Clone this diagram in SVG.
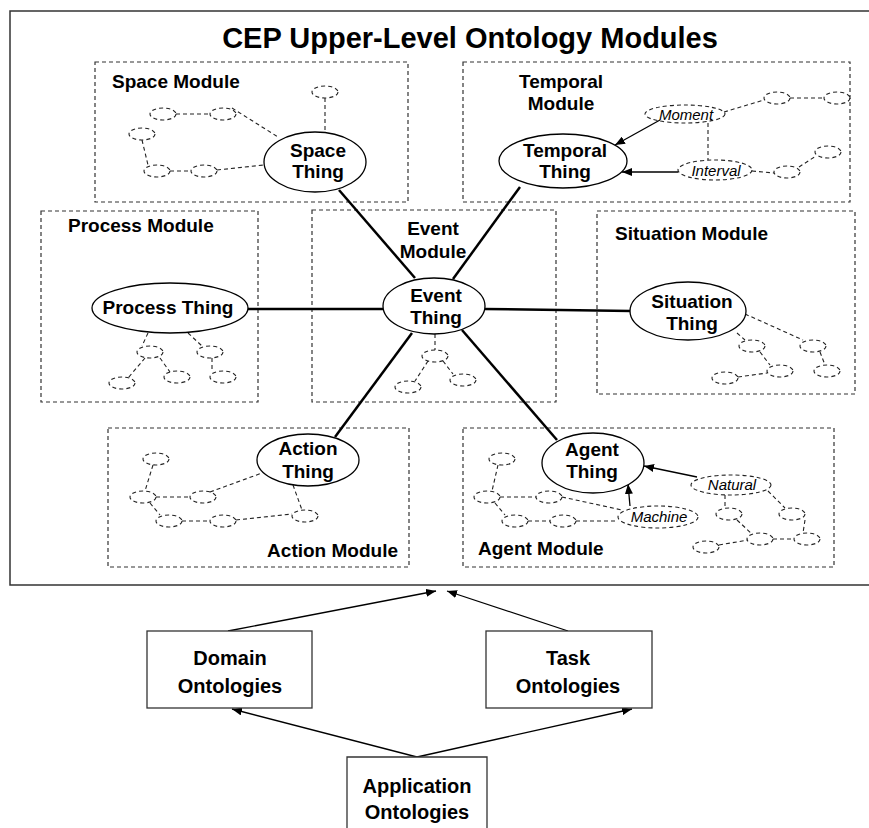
<svg xmlns="http://www.w3.org/2000/svg" width="869" height="828" viewBox="0 0 869 828">
<style>
.frame{fill:none;stroke:#333;stroke-width:1.5}
.mod{fill:none;stroke:#333;stroke-width:1.2;stroke-dasharray:4 3}
.sm{fill:none;stroke:#222;stroke-width:1.1;stroke-dasharray:4 3}
.dl{fill:none;stroke:#222;stroke-width:1.1;stroke-dasharray:4 3}
.th{fill:#fff;stroke:#000;stroke-width:1.3}
.spoke{stroke:#000;stroke-width:2.5;fill:none}
.arr{stroke:#000;stroke-width:1.3;fill:none;marker-end:url(#ah)}
.box{fill:#fff;stroke:#333;stroke-width:1.3}
text{font-family:"Liberation Sans",Arial,Helvetica,sans-serif;fill:#000}
.b{font-weight:bold;font-size:19px}
.bb{font-weight:bold;font-size:20px}
.c{text-anchor:middle}
.it{font-style:italic;font-size:15px;text-anchor:middle}
.title{font-weight:bold;font-size:29px;text-anchor:middle}
</style>
<defs>
<marker id="ah" viewBox="0 0 10 8" refX="10" refY="4" markerWidth="10" markerHeight="8" markerUnits="userSpaceOnUse" orient="auto"><path d="M0,0 L10,4 L0,8 z" fill="#000"/></marker>
</defs>
<rect width="869" height="828" fill="#fff"/>
<path class="frame" d="M872,11 H10 V585 H872"/>
<text class="title" x="470" y="48">CEP Upper-Level Ontology Modules</text>

<g id="space-module">
<rect class="mod" x="95" y="62" width="313" height="140"/>
<text class="b" x="112" y="88">Space Module</text>
<ellipse class="sm" cx="325" cy="92" rx="13" ry="6"/>
<ellipse class="sm" cx="163" cy="114" rx="13" ry="6"/>
<ellipse class="sm" cx="223" cy="114" rx="13" ry="6"/>
<ellipse class="sm" cx="142" cy="134" rx="13" ry="6"/>
<ellipse class="sm" cx="157" cy="171" rx="13" ry="6"/>
<ellipse class="sm" cx="204" cy="171" rx="13" ry="6"/>
<path class="dl" d="M325,98 V132 M176,114 H210 M232,108 L278,137 M142,140 L148,165 M170,171 H191 M217,170 L264,165"/>
</g>

<g id="temporal-module">
<rect class="mod" x="463" y="62" width="387" height="140"/>
<text class="b c" x="561" y="88">Temporal</text>
<text class="b c" x="561" y="110">Module</text>
<ellipse class="sm" cx="777" cy="98" rx="13" ry="6"/>
<ellipse class="sm" cx="837" cy="98" rx="13" ry="6"/>
<ellipse class="sm" cx="787" cy="172" rx="13" ry="6"/>
<ellipse class="sm" cx="828" cy="152" rx="13" ry="6"/>
<path class="dl" d="M724,112 L764,100 M790,98 H824 M708,123 V160 M752,171 L774,173 M799,167 L816,156"/>
</g>
<g id="moment">
<ellipse class="sm" cx="685" cy="114" rx="40" ry="9"/>
<text class="it" x="686" y="120">Moment</text>
</g>
<g id="interval">
<ellipse class="sm" cx="715" cy="170" rx="37" ry="10"/>
<text class="it" x="716" y="176">Interval</text>
</g>

<g id="process-module">
<rect class="mod" x="41" y="211" width="217" height="191"/>
<text class="b" x="68" y="232">Process Module</text>
<ellipse class="sm" cx="150" cy="352" rx="13" ry="6"/>
<ellipse class="sm" cx="210" cy="352" rx="13" ry="6"/>
<ellipse class="sm" cx="177" cy="377" rx="13" ry="6"/>
<ellipse class="sm" cx="223" cy="377" rx="13" ry="6"/>
<ellipse class="sm" cx="122" cy="383" rx="13" ry="6"/>
<path class="dl" d="M148,333 L142,346 M188,333 L202,346 M145,358 L128,378 M160,358 L170,372 M212,358 V371"/>
</g>

<g id="event-module">
<rect class="mod" x="312" y="210" width="244" height="192"/>
<text class="b c" x="433" y="235">Event</text>
<text class="b c" x="433" y="258">Module</text>
<ellipse class="sm" cx="435" cy="356" rx="13" ry="6"/>
<ellipse class="sm" cx="408" cy="387" rx="13" ry="6"/>
<ellipse class="sm" cx="463" cy="380" rx="13" ry="6"/>
<path class="dl" d="M435,334 V350 M428,361 L415,381 M443,361 L453,374"/>
</g>

<g id="situation-module">
<rect class="mod" x="597" y="211" width="258" height="183"/>
<text class="b" x="615" y="240">Situation Module</text>
<ellipse class="sm" cx="752" cy="346" rx="13" ry="6"/>
<ellipse class="sm" cx="813" cy="346" rx="13" ry="6"/>
<ellipse class="sm" cx="780" cy="371" rx="13" ry="6"/>
<ellipse class="sm" cx="827" cy="371" rx="13" ry="6"/>
<ellipse class="sm" cx="725" cy="378" rx="13" ry="6"/>
<path class="dl" d="M745,314 L803,340 M737,333 L745,340 M760,352 L770,365 M738,377 L767,373 M820,352 L825,365"/>
</g>

<g id="action-module">
<rect class="mod" x="108" y="428" width="301" height="139"/>
<text class="b" x="398" y="557" text-anchor="end">Action  Module</text>
<ellipse class="sm" cx="156" cy="459" rx="13" ry="6"/>
<ellipse class="sm" cx="143" cy="497" rx="13" ry="6"/>
<ellipse class="sm" cx="203" cy="497" rx="13" ry="6"/>
<ellipse class="sm" cx="169" cy="521" rx="13" ry="6"/>
<ellipse class="sm" cx="223" cy="521" rx="13" ry="6"/>
<ellipse class="sm" cx="305" cy="516" rx="13" ry="6"/>
<path class="dl" d="M153,465 L145,491 M156,497 H190 M210,492 L262,473 M150,503 L160,515 M182,521 H210 M236,520 L292,514 M293,485 L302,510"/>
</g>

<g id="agent-module">
<rect class="mod" x="463" y="428" width="371" height="139"/>
<text class="b" x="478" y="555">Agent Module</text>
<ellipse class="sm" cx="502" cy="459" rx="13" ry="6"/>
<ellipse class="sm" cx="487" cy="497" rx="13" ry="6"/>
<ellipse class="sm" cx="549" cy="497" rx="13" ry="6"/>
<ellipse class="sm" cx="515" cy="521" rx="13" ry="6"/>
<ellipse class="sm" cx="563" cy="521" rx="13" ry="6"/>
<ellipse class="sm" cx="729" cy="514" rx="13" ry="6"/>
<ellipse class="sm" cx="792" cy="514" rx="13" ry="6"/>
<ellipse class="sm" cx="760" cy="539" rx="13" ry="6"/>
<ellipse class="sm" cx="807" cy="539" rx="13" ry="6"/>
<ellipse class="sm" cx="706" cy="547" rx="13" ry="6"/>
<path class="dl" d="M498,465 L492,491 M500,497 H536 M562,497 L622,510 M495,503 L505,515 M528,521 H550 M576,521 L618,521 M725,495 V508 M768,491 L785,508 M737,520 L752,534 M805,520 L803,533 M719,545 L748,540 M773,539 H794"/>
</g>
<g id="natural">
<ellipse class="sm" cx="731" cy="485" rx="40" ry="10"/>
<text class="it" x="732" y="490">Natural</text>
</g>
<g id="machine">
<ellipse class="sm" cx="658" cy="517" rx="40" ry="11"/>
<text class="it" x="659" y="522">Machine</text>
</g>

<g id="connectors">
<path class="spoke" d="M339,190 L415,278"/>
<path class="spoke" d="M520,187 L453,279"/>
<path class="spoke" d="M248,309 H384"/>
<path class="spoke" d="M484,309 L631,311"/>
<path class="spoke" d="M412,333 L335,437"/>
<path class="spoke" d="M462,330 L557,440"/>
<path class="arr" d="M660,120 L615,145"/>
<path class="arr" d="M678,172 L622,172"/>
<path class="arr" d="M697,477 L644,466"/>
<path class="arr" d="M630,506 L628,484"/>
<path class="arr" d="M228,631 L436,591"/>
<path class="arr" d="M568,631 L447,591"/>
<path class="arr" d="M417,757 L232,709"/>
<path class="arr" d="M417,757 L632,709"/>
</g>

<g id="space-thing">
<ellipse class="th" cx="315" cy="162" rx="51" ry="30"/>
<text class="b c" x="318" y="157">Space</text>
<text class="b c" x="318" y="178">Thing</text>
</g>
<g id="temporal-thing">
<ellipse class="th" cx="563" cy="161" rx="64" ry="27"/>
<text class="b c" x="565" y="157">Temporal</text>
<text class="b c" x="565" y="178">Thing</text>
</g>
<g id="process-thing">
<ellipse class="th" cx="170" cy="308" rx="78" ry="25"/>
<text class="b c" x="168" y="314">Process Thing</text>
</g>
<g id="event-thing">
<ellipse class="th" cx="434" cy="306" rx="51" ry="28"/>
<text class="b c" x="436" y="302">Event</text>
<text class="b c" x="436" y="324">Thing</text>
</g>
<g id="situation-thing">
<ellipse class="th" cx="688" cy="311" rx="58" ry="29"/>
<text class="b c" x="692" y="308">Situation</text>
<text class="b c" x="692" y="330">Thing</text>
</g>
<g id="action-thing">
<ellipse class="th" cx="308" cy="460" rx="51" ry="26"/>
<text class="b c" x="308" y="455">Action</text>
<text class="b c" x="308" y="478">Thing</text>
</g>
<g id="agent-thing">
<ellipse class="th" cx="593" cy="463" rx="51" ry="30"/>
<text class="b c" x="592" y="456">Agent</text>
<text class="b c" x="592" y="478">Thing</text>
</g>

<g id="domain-ontologies">
<rect class="box" x="147" y="631" width="165" height="77"/>
<text class="bb c" x="230" y="665">Domain</text>
<text class="bb c" x="230" y="693">Ontologies</text>
</g>
<g id="task-ontologies">
<rect class="box" x="486" y="631" width="166" height="77"/>
<text class="bb c" x="568" y="665">Task</text>
<text class="bb c" x="568" y="693">Ontologies</text>
</g>
<g id="application-ontologies">
<path class="box" d="M347,832 V757 H487 V832"/>
<text class="bb c" x="417" y="793">Application</text>
<text class="bb c" x="417" y="819">Ontologies</text>
</g>
</svg>
